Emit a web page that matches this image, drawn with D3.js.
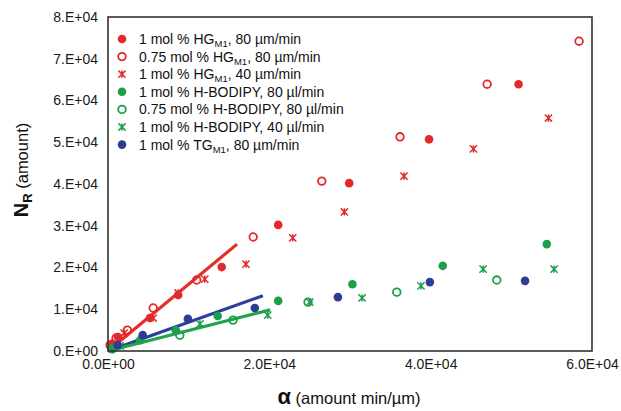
<!DOCTYPE html>
<html>
<head>
<meta charset="utf-8">
<script src="https://cdn.jsdelivr.net/npm/d3@7"></script>
<style>
  body { margin: 0; background: #fff; }
  svg { font-family: Arial, "Liberation Sans", sans-serif; }
</style>
</head>
<body>
<div id="chart"></div>
<script>
// data, [alpha, N_R]
const hg1at80 = [[500, 1700], [1240, 3350], [5200, 7900], [8700, 13400], [14100, 20100],
  [21100, 30200], [29900, 40200], [39800, 50700], [50900, 63900]];
const hg075at80 = [[250, 1400], [1000, 3100], [2400, 5000], [5600, 10300], [11000, 17000],
  [18000, 27300], [26500, 40700], [36200, 51300], [47000, 63900], [58400, 74200]];
const hg1at40 = [[2000, 4300], [5600, 7900], [8700, 13900], [12000, 17200], [17100, 20800],
  [22900, 27100], [29300, 33300], [36700, 41900], [45300, 48400], [54600, 55800]];
const hb1at80 = [[600, 500], [4000, 2600], [8400, 5000], [13600, 8400], [21100, 12000],
  [30300, 16000], [41500, 20400], [54400, 25600]];
const hb075at80 = [[500, 500], [8900, 3800], [15500, 7400], [24800, 11700], [35800, 14100],
  [48200, 17000]];
const hb1at40 = [[1500, 1200], [11400, 6500], [19800, 8600], [25000, 11700], [31500, 12700],
  [38800, 15600], [46500, 19600], [55300, 19600]];
const tg1at80 = [[1200, 1400], [4300, 3800], [9900, 7700], [18200, 10300], [28500, 12900],
  [39900, 16500], [51700, 16800]];

// linear fits through the origin: slope and x where the drawn line stops
const fitSlopes = [1.6, 0.69, 0.49];
const fitEnds = [16000, 19200, 20100];
const fitColors = ['#e5302a', '#2c3f9c', '#1fa54a'];

const legendParts = [
  ['1 mol % HG', 'M1', ', 80 µm/min'],
  ['0.75 mol % HG', 'M1', ', 80 µm/min'],
  ['1 mol % HG', 'M1', ', 40 µm/min'],
  ['1 mol % H-BODIPY, 80 µl/min', '', ''],
  ['0.75 mol % H-BODIPY, 80 µl/min', '', ''],
  ['1 mol % H-BODIPY, 40 µl/min', '', ''],
  ['1 mol % TG', 'M1', ', 80 µm/min'],
];

const xTicks = [0, 20000, 40000, 60000];
const yTicks = [0, 10000, 20000, 30000, 40000, 50000, 60000, 70000, 80000];

const RED = '#e4282b';
const GREEN = '#1c9e4a';
const BLUE = '#2d3c97';

const series = [
  { data: hg1at80, color: RED, shape: 'dot' },
  { data: hg075at80, color: RED, shape: 'ring' },
  { data: hg1at40, color: RED, shape: 'star' },
  { data: hb1at80, color: GREEN, shape: 'dot' },
  { data: hb075at80, color: GREEN, shape: 'ring' },
  { data: hb1at40, color: GREEN, shape: 'star' },
  { data: tg1at80, color: BLUE, shape: 'dot' },
];

const W = 621;
const H = 411;
const margin = { left: 108, right: 29, top: 17, bottom: 60 };

const svg = d3.select('#chart').append('svg')
  .attr('width', W)
  .attr('height', H);

const x = d3.scaleLinear().domain([0, 60000]).range([margin.left, W - margin.right]);
const y = d3.scaleLinear().domain([0, 80000]).range([H - margin.bottom, margin.top]);

// draw one marker at (cx, cy)
function drawMarker(g, shape, color, cx, cy) {
  if (shape === 'dot') {
    g.append('circle').attr('cx', cx).attr('cy', cy).attr('r', 4.3)
      .attr('fill', color);
  } else if (shape === 'ring') {
    g.append('circle').attr('cx', cx).attr('cy', cy).attr('r', 3.8)
      .attr('fill', 'none').attr('stroke', color).attr('stroke-width', 1.8);
  } else {
    // excel star: x plus a vertical stroke
    const s = 3.6;
    g.append('path')
      .attr('d', `M${cx - s},${cy - s}L${cx + s},${cy + s}M${cx + s},${cy - s}L${cx - s},${cy + s}`
        + `M${cx},${cy - s}V${cy + s}`)
      .attr('stroke', color).attr('stroke-width', 1.5).attr('fill', 'none');
  }
}

// fit lines (behind the markers)
fitSlopes.forEach((m, i) => {
  svg.append('line')
    .attr('x1', x(0)).attr('y1', y(0))
    .attr('x2', x(fitEnds[i])).attr('y2', y(m * fitEnds[i]))
    .attr('stroke', fitColors[i])
    .attr('stroke-width', 3.2);
});

const markers = svg.append('g');
series.forEach((s) => {
  s.data.forEach((d) => drawMarker(markers, s.shape, s.color, x(d[0]), y(d[1])));
});

// plot frame
svg.append('rect')
  .attr('x', margin.left).attr('y', margin.top)
  .attr('width', W - margin.right - margin.left)
  .attr('height', H - margin.bottom - margin.top)
  .attr('fill', 'none')
  .attr('stroke', '#333')
  .attr('stroke-width', 1.6);

const xAxis = d3.axisBottom(x).tickValues(xTicks).tickSize(0).tickPadding(8)
  .tickFormat((d) => `${(d / 10000).toFixed(1)}E+0${d === 0 ? 0 : 4}`);
const yAxis = d3.axisLeft(y).tickValues(yTicks).tickSize(0).tickPadding(10)
  .tickFormat((d) => (d === 0 ? '0.E+00' : `${d / 10000}.E+04`));

svg.append('g')
  .attr('transform', `translate(0,${H - margin.bottom})`)
  .call(xAxis)
  .call((g) => g.select('.domain').remove())
  .selectAll('text')
  .attr('font-size', 14)
  .attr('fill', '#1a1a1a');

svg.append('g')
  .attr('transform', `translate(${margin.left},0)`)
  .call(yAxis)
  .call((g) => g.select('.domain').remove())
  .selectAll('text')
  .attr('font-size', 14)
  .attr('fill', '#1a1a1a');

// axis titles
const xTitle = svg.append('text')
  .attr('x', 349).attr('y', 404)
  .attr('text-anchor', 'middle')
  .attr('fill', '#111');
xTitle.append('tspan').attr('font-size', 22).attr('font-weight', 'bold').text('α');
xTitle.append('tspan').attr('font-size', 16.5).text('  (amount min/µm)');

const yTitle = svg.append('text')
  .attr('transform', 'translate(28,170) rotate(-90)')
  .attr('text-anchor', 'middle')
  .attr('fill', '#111');
yTitle.append('tspan').attr('font-size', 20).attr('font-weight', 'bold').text('N');
yTitle.append('tspan').attr('font-size', 13).attr('font-weight', 'bold')
  .attr('dy', 4).text('R');
yTitle.append('tspan').attr('font-size', 16.5).attr('dy', -4).text(' (amount)');

// legend
const legend = svg.append('g');
legendParts.forEach((parts, i) => {
  const ly = 39 + i * 17.6;
  drawMarker(legend, series[i].shape, series[i].color, 122, ly);
  const t = legend.append('text')
    .attr('x', 139).attr('y', ly + 5)
    .attr('font-size', 14)
    .attr('fill', '#111');
  t.append('tspan').text(parts[0]);
  if (parts[1]) {
    t.append('tspan').attr('font-size', 9.5).attr('dy', 3).text(parts[1]);
    t.append('tspan').attr('dy', -3).text(parts[2]);
  }
});
</script>
</body>
</html>
